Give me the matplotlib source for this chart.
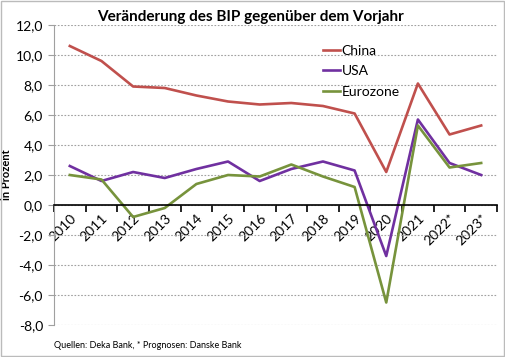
import matplotlib.pyplot as plt
import matplotlib.patches as mpatches
import numpy as np

# Daten
jahre = ['2010', '2011', '2012', '2013', '2014', '2015', '2016', '2017',
         '2018', '2019', '2020', '2021', '2022*', '2023*']
china = [10.6, 9.6, 7.9, 7.8, 7.3, 6.9, 6.7, 6.8, 6.6, 6.1, 2.2, 8.1, 4.7, 5.3]
usa = [2.6, 1.6, 2.2, 1.8, 2.4, 2.9, 1.6, 2.4, 2.9, 2.3, -3.4, 5.7, 2.8, 2.0]
eurozone = [2.0, 1.7, -0.8, -0.2, 1.4, 2.0, 1.9, 2.7, 1.9, 1.2, -6.5, 5.3, 2.5, 2.8]
y_ticks = [-8, -6, -4, -2, 0, 2, 4, 6, 8, 10, 12]

plt.rcParams['font.family'] = ['Lato', 'DejaVu Sans']

fig = plt.figure(figsize=(5.06, 3.57), dpi=100)
ax = fig.add_axes([54 / 506, 1 - 325 / 357, 443 / 506, 300 / 357])

x = np.arange(len(jahre))
ax.plot(x, china, color='#C0504D', lw=1.9, label='China')
ax.plot(x, usa, color='#7030A0', lw=1.9, label='USA')
ax.plot(x, eurozone, color='#77933C', lw=1.9, label='Eurozone')

ax.set_ylim(-8, 12)
ax.set_xlim(-0.5, len(jahre) - 0.5)
ax.set_yticks(y_ticks)
ax.set_yticklabels([f'{v:.1f}'.replace('.', ',') for v in y_ticks], fontsize=10)
ax.yaxis.grid(True, linestyle=(0, (1.5, 1.5)), color='#A0A0A0', lw=0.8)
ax.set_axisbelow(True)
ax.tick_params(axis='y', length=4, color='#A0A0A0', pad=4)

# x-Achse bei 0
ax.spines['bottom'].set_position(('data', 0))
ax.spines['bottom'].set_color('black')
ax.spines['bottom'].set_linewidth(1.2)
ax.spines['left'].set_color('#A0A0A0')
ax.spines['top'].set_visible(False)
ax.spines['right'].set_visible(False)

ax.set_xticks(np.arange(-0.5, len(jahre)), minor=False)
ax.set_xticklabels([])
ax.tick_params(axis='x', which='major', length=5, width=1.2, direction='out')
ax.set_xticks(x, minor=True)
ax.set_xticklabels(jahre, minor=True, rotation=45, ha='right', va='top',
                   rotation_mode='anchor', fontsize=10)
ax.tick_params(axis='x', which='minor', length=0, pad=5)

ax.set_ylabel('in Prozent', fontsize=8, fontweight='bold')
ax.yaxis.set_label_coords(-0.095, 0.5)

leg = ax.legend(loc='upper left', bbox_to_anchor=(0.58, 0.975), frameon=False,
                fontsize=10, handlelength=1.2, handletextpad=0.1, labelspacing=0.6)

fig.text(250 / 506, 1 - 17 / 357, 'Veränderung des BIP gegenüber dem Vorjahr',
         ha='center', va='center', fontsize=11, fontweight='bold')
fig.text(54 / 506, 1 - 346 / 357, 'Quellen: Deka Bank, * Prognosen: Danske Bank',
         ha='left', va='center', fontsize=6.5)

fig.patches.append(mpatches.Rectangle((0.002, 0.003), 0.994, 0.994, transform=fig.transFigure,
                                      fill=False, edgecolor='#BBBBBB', lw=1))

fig.savefig('out.png', dpi=100)
